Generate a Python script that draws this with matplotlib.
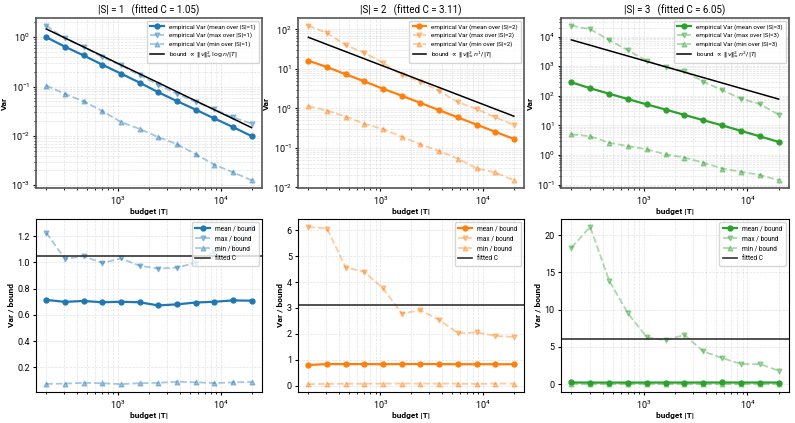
"""
Var vs budget |T| for |S| = 1, 2, 3 and the ratio to the theoretical bound.
"""
import numpy as np
import matplotlib
matplotlib.use("Agg")
import matplotlib.pyplot as plt

plt.rcParams["font.family"] = ["Roboto", "DejaVu Sans"]
plt.rcParams["mathtext.fontset"] = "dejavusans"

# ── data ─────────────────────────────────────────────────────────────
budgets = [200, 304, 462, 702, 1067, 1622, 2466, 3748, 5697, 8660, 13163, 20000]
sizes = [1, 2, 3]
fitted_C = [1.05, 3.11, 6.05]

# bound (without C) per budget
bound_s1 = [1.40, 0.921, 0.606, 0.399, 0.262, 0.173, 0.114, 0.0747, 0.0491, 0.0323, 0.0213, 0.0140]
bound_s2 = [20.4, 13.4, 8.83, 5.81, 3.82, 2.52, 1.65, 1.09, 0.716, 0.471, 0.310, 0.204]
bound_s3 = [1270, 836, 550, 362, 238, 157, 103, 67.8, 44.6, 29.3, 19.3, 12.7]

# Var / bound
mean_s1 = [0.714, 0.699, 0.706, 0.696, 0.700, 0.696, 0.672, 0.680, 0.694, 0.700, 0.710, 0.708]
max_s1 = [1.226, 1.026, 1.047, 0.995, 1.030, 0.974, 0.953, 0.960, 0.995, 1.08, 1.12, 1.27]
min_s1 = [0.075, 0.077, 0.083, 0.080, 0.073, 0.080, 0.083, 0.091, 0.087, 0.081, 0.086, 0.090]

mean_s2 = [0.795, 0.830, 0.830, 0.830, 0.825, 0.830, 0.833, 0.830, 0.825, 0.825, 0.825, 0.825]
max_s2 = [6.13, 6.06, 4.56, 4.39, 3.75, 2.78, 2.91, 2.54, 2.02, 2.05, 1.92, 1.88]
min_s2 = [0.056, 0.066, 0.070, 0.070, 0.078, 0.076, 0.074, 0.076, 0.075, 0.064, 0.077, 0.074]

mean_s3 = [0.224, 0.213, 0.213, 0.213, 0.214, 0.217, 0.218, 0.220, 0.224, 0.222, 0.220, 0.217]
max_s3 = [18.3, 21.1, 13.9, 9.5, 6.3, 5.9, 6.6, 4.4, 3.5, 2.7, 2.7, 1.8]
min_s3 = [0.0039, 0.0051, 0.0047, 0.0055, 0.0065, 0.0067, 0.0079, 0.0081, 0.0078, 0.0092, 0.0109, 0.011]

bounds = [bound_s1, bound_s2, bound_s3]
means = [mean_s1, mean_s2, mean_s3]
maxs = [max_s1, max_s2, max_s3]
mins = [min_s1, min_s2, min_s3]
colors = ["#1f77b4", "#ff7f0e", "#2ca02c"]
bound_labels = [r"bound $\propto\ \|v\|_\infty^2\,\log n/|T|$",
                r"bound $\propto\ \|v\|_\infty^2\,n^1/|T|$",
                r"bound $\propto\ \|v\|_\infty^2\,n^2/|T|$"]

# ── figure ───────────────────────────────────────────────────────────
fig = plt.figure(figsize=(7.95, 4.23), dpi=100)
lefts = [0.0453, 0.375, 0.7057]
widths = [0.284, 0.2843, 0.2868]

T = np.array(budgets, dtype=float)
for i, s in enumerate(sizes):
    b = np.array(bounds[i])
    r_mean, r_max, r_min = np.array(means[i]), np.array(maxs[i]), np.array(mins[i])
    c = colors[i]

    # top: Var vs budget
    ax = fig.add_axes([lefts[i], 0.5556, widths[i], 0.402])
    ax.loglog(T, r_mean * b, "-o", color=c, lw=1.6, ms=3.5,
              label=f"empirical Var (mean over |S|={s})")
    ax.loglog(T, r_max * b, "--v", color=c, lw=1.3, ms=3.5, alpha=0.4,
              label=f"empirical Var (max over |S|={s})")
    ax.loglog(T, r_min * b, "--^", color=c, lw=1.3, ms=3.5, alpha=0.4,
              label=f"empirical Var (min over |S|={s})")
    ax.loglog(T, fitted_C[i] * b, "-", color="black", lw=1.1, label=bound_labels[i])
    ax.set_title(f"|S| = {s}   (fitted C = {fitted_C[i]:.2f})", fontsize=7, pad=3)
    ax.set_xlabel("budget |T|", fontsize=6, fontweight="bold", labelpad=1)
    ax.set_ylabel("Var", fontsize=6, fontweight="bold", labelpad=2)
    ax.grid(True, which="both", ls="--", lw=0.5, alpha=0.35)
    ax.tick_params(labelsize=6.5, length=2.5, pad=2)
    ax.tick_params(which="minor", length=1.5)
    for sp in ax.spines.values():
        sp.set_color("#555555")
        sp.set_linewidth(1.2)
    ax.legend(loc="upper right", fontsize=4.5, handlelength=2.2,
              borderpad=0.5, labelspacing=0.45)

    # bottom: Var / bound
    ax2 = fig.add_axes([lefts[i], 0.0733, widths[i], 0.409])
    ax2.semilogx(T, r_mean, "-o", color=c, lw=1.6, ms=3.5, label="mean / bound")
    ax2.semilogx(T, r_max, "--v", color=c, lw=1.3, ms=3.5, alpha=0.4, label="max / bound")
    ax2.semilogx(T, r_min, "--^", color=c, lw=1.3, ms=3.5, alpha=0.4, label="min / bound")
    ax2.axhline(fitted_C[i], color="#333333", lw=1.2, label="fitted C")
    ax2.set_xlabel("budget |T|", fontsize=6, fontweight="bold", labelpad=1)
    ax2.set_ylabel("Var / bound", fontsize=6, fontweight="bold", labelpad=2)
    ax2.grid(True, which="both", ls="--", lw=0.5, alpha=0.35)
    ax2.tick_params(labelsize=6.5, length=2.5, pad=2)
    ax2.tick_params(which="minor", length=1.5)
    ax2.legend(loc="upper right", fontsize=4.7, handlelength=2.2,
               borderpad=0.5, labelspacing=0.45)

plt.savefig("out.png", dpi=100)
